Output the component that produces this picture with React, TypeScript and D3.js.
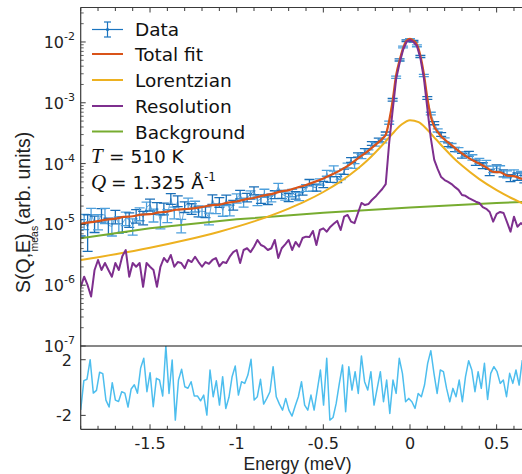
import * as d3 from 'd3'

const W = 522
const H = 474

// measured S(Q,E) on a 0.02 meV grid starting at -1.9 meV
const dataStart = -1.9
const dataStep = 0.02
const dataY = [
  9.2e-6, 1.14e-5, 9.0e-6, 1.47e-5, 1.05e-5, 1.13e-5, 1.45e-5, 1.43e-5, 9.7e-6, 9.2e-6,
  1.36e-5, 1.02e-5, 1.03e-5, 1.27e-5, 1.22e-5, 9.5e-6, 1.4e-5, 1.51e-5, 1.31e-5, 1.9e-5,
  2.13e-5, 1.44e-5, 1.87e-5, 1.14e-5, 1.84e-5, 1.41e-5, 2.67e-5, 1.58e-5, 2.45e-5, 9.7e-6,
  1.96e-5, 2.25e-5, 1.82e-5, 2.0e-5, 1.66e-5, 1.64e-5, 1.62e-5, 1.26e-5, 2.59e-5, 1.84e-5,
  2.33e-5, 1.7e-5, 2.57e-5, 1.73e-5, 2.1e-5, 2.71e-5, 3.12e-5, 2.31e-5, 2.79e-5, 3.06e-5,
  3.59e-5, 2.43e-5, 2.64e-5, 3.29e-5, 2.53e-5, 2.77e-5, 3.11e-5, 4.14e-5, 3.15e-5, 2.94e-5,
  2.78e-5, 3.31e-5, 3.02e-5, 2.89e-5, 3.52e-5, 4.0e-5, 4.89e-5, 4.05e-5, 4.04e-5, 5.02e-5,
  4.56e-5, 6.96e-5, 5.5e-5, 8.36e-5, 5.48e-5, 6.08e-5, 7.39e-5, 9.37e-5, 1.15e-4, 9.16e-5,
  1.39e-4, 1.31e-4, 1.63e-4, 1.56e-4, 2.15e-4, 2.09e-4, 2.46e-4, 2.36e-4, 3.12e-4, 4.72e-4,
  1.12e-3, 2.63e-3, 5.07e-3, 8.27e-3, 1.05e-2, 1.1e-2, 1.03e-2, 8.65e-3, 5.76e-3, 2.81e-3,
  1.2e-3, 6.66e-4, 4.63e-4, 3.52e-4, 3.02e-4, 2.47e-4, 2.04e-4, 1.98e-4, 1.71e-4, 1.7e-4,
  1.35e-4, 1.43e-4, 1.46e-4, 1.27e-4, 1.04e-4, 1.11e-4, 9.3e-5, 1.02e-4, 7.19e-5, 8.1e-5,
  8.48e-5, 8.22e-5, 6.97e-5, 6.72e-5, 5.8e-5, 6.99e-5, 6.14e-5, 6.52e-5, 5.61e-5, 6.42e-5, 5.2e-5,
]
// relative error of each point
const dataRelErr = [
  0.3, 0.28, 0.6, 0.25, 0.3, 0.28, 0.25, 0.28, 0.3, 0.3,
  0.25, 0.3, 0.28, 0.25, 0.27, 0.3, 0.25, 0.24, 0.25, 0.22,
  0.22, 0.24, 0.22, 0.26, 0.22, 0.24, 0.2, 0.22, 0.2, 0.25,
  0.2, 0.2, 0.2, 0.2, 0.2, 0.2, 0.2, 0.22, 0.18, 0.18,
  0.18, 0.2, 0.18, 0.2, 0.18, 0.17, 0.16, 0.17, 0.16, 0.16,
  0.15, 0.16, 0.16, 0.15, 0.16, 0.15, 0.15, 0.14, 0.15, 0.15,
  0.15, 0.14, 0.14, 0.15, 0.14, 0.13, 0.12, 0.13, 0.13, 0.12,
  0.12, 0.11, 0.11, 0.1, 0.11, 0.1, 0.1, 0.09, 0.09, 0.09,
  0.08, 0.08, 0.08, 0.08, 0.07, 0.07, 0.07, 0.07, 0.06, 0.06,
  0.05, 0.04, 0.04, 0.035, 0.03, 0.03, 0.03, 0.035, 0.04, 0.04,
  0.05, 0.05, 0.06, 0.06, 0.07, 0.07, 0.07, 0.08, 0.08, 0.08,
  0.09, 0.09, 0.09, 0.1, 0.1, 0.1, 0.11, 0.11, 0.12, 0.12,
  0.12, 0.12, 0.13, 0.13, 0.13, 0.13, 0.14, 0.14, 0.14, 0.14, 0.14,
]
// resolution (same grid as the data)
const resolutionY = [
  9.4e-7, 1.38e-6, 1.0e-6, 6.5e-7, 1.78e-6, 2.6e-6, 1.78e-6, 2.32e-6, 1.78e-6, 1.38e-6,
  2.32e-6, 1.78e-6, 3.0e-6, 3.79e-6, 1.38e-6, 2.32e-6, 2.01e-6, 2.32e-6, 9.4e-7, 2.32e-6,
  2.01e-6, 1.78e-6, 9.4e-7, 2.01e-6, 2.8e-6, 2.4e-6, 3.14e-6, 2.01e-6, 2.4e-6, 2.32e-6,
  1.9e-6, 2.6e-6, 2.4e-6, 2.94e-6, 2.4e-6, 2.01e-6, 2.4e-6, 2.25e-6, 2.6e-6, 2.8e-6,
  2.05e-6, 2.4e-6, 2.32e-6, 2.94e-6, 3.5e-6, 3.79e-6, 2.32e-6, 3.79e-6, 4.05e-6, 3.5e-6,
  4.3e-6, 5.54e-6, 4.58e-6, 4.3e-6, 3.79e-6, 4.05e-6, 5.54e-6, 2.8e-6, 4.05e-6, 4.7e-6,
  5.54e-6, 3.79e-6, 5.14e-6, 4.3e-6, 5.97e-6, 6.28e-6, 6.2e-6, 7.8e-6, 4.58e-6, 8.09e-6,
  8.6e-6, 7.59e-6, 9.1e-6, 1.02e-5, 1.14e-5, 8.09e-6, 1.34e-5, 1.43e-5, 1.11e-5, 1.05e-5,
  1.54e-5, 2.25e-5, 2.08e-5, 2.16e-5, 2.52e-5, 2.84e-5, 3.3e-5, 3.82e-5, 4.6e-5, 2.2e-4,
  7.5e-4, 2.45e-3, 4.52e-3, 7.4e-3, 1.0e-2, 1.08e-2, 1.0e-2, 8.6e-3, 5.46e-3, 2.56e-3,
  8.2e-4, 2.64e-4, 1.15e-4, 8.1e-5, 6.0e-5, 5.37e-5, 5.0e-5, 4.6e-5, 4.1e-5, 3.7e-5,
  3.05e-5, 2.95e-5, 2.7e-5, 2.52e-5, 2.36e-5, 2.25e-5, 1.93e-5, 1.8e-5, 1.6e-5, 1.11e-5,
  1.49e-5, 1.6e-5, 1.54e-5, 1.09e-5, 7.59e-6, 1.34e-5, 9.16e-6, 1.05e-5, 9.5e-6, 1.0e-5, 8.7e-6,
]

// total fit
const fitE = [
  -1.9, -1.85, -1.8, -1.75, -1.7, -1.65, -1.6, -1.55, -1.5, -1.45, -1.4, -1.35, -1.3, -1.25,
  -1.2, -1.15, -1.1, -1.05, -1.0, -0.95, -0.9, -0.85, -0.8, -0.75, -0.7, -0.65, -0.6, -0.55,
  -0.5, -0.45, -0.4, -0.35, -0.3, -0.25, -0.2, -0.16, -0.14, -0.12, -0.1, -0.08, -0.06, -0.04,
  -0.02, 0, 0.02, 0.04, 0.06, 0.08, 0.1, 0.12, 0.14, 0.16, 0.18, 0.2, 0.24, 0.28, 0.32, 0.36,
  0.4, 0.44, 0.48, 0.52, 0.56, 0.6, 0.64, 0.7,
]
const fitY = [
  1.02e-5, 1.08e-5, 1.13e-5, 1.2e-5, 1.24e-5, 1.33e-5, 1.36e-5, 1.45e-5, 1.47e-5, 1.58e-5,
  1.62e-5, 1.74e-5, 1.78e-5, 1.83e-5, 1.93e-5, 2.06e-5, 2.12e-5, 2.28e-5, 2.38e-5, 2.58e-5,
  2.72e-5, 2.98e-5, 3.15e-5, 3.45e-5, 3.66e-5, 4.05e-5, 4.45e-5, 5.0e-5, 5.7e-5, 6.6e-5,
  7.8e-5, 9.5e-5, 1.22e-4, 1.55e-4, 2.03e-4, 2.57e-4, 2.97e-4, 5.08e-4, 1.08e-3, 2.83e-3,
  4.97e-3, 7.88e-3, 1.05e-2, 1.13e-2, 1.05e-2, 9.1e-3, 5.94e-3, 2.99e-3, 1.2e-3, 5.95e-4,
  4.03e-4, 3.32e-4, 2.8e-4, 2.49e-4, 2.0e-4, 1.62e-4, 1.34e-4, 1.14e-4, 1.0e-4, 8.67e-5,
  7.3e-5, 7.21e-5, 6.34e-5, 6.24e-5, 5.67e-5, 5.2e-5,
]

// Lorentzian component
const lorentzE = [
  -1.9, -1.7, -1.5, -1.3, -1.1, -0.9, -0.7, -0.6, -0.5, -0.4, -0.3, -0.25, -0.2, -0.15,
  -0.1, -0.05, 0, 0.05, 0.1, 0.15, 0.2, 0.25, 0.3, 0.4, 0.5, 0.6, 0.7,
]
const lorentzY = [
  2.59e-6, 3.22e-6, 4.12e-6, 5.47e-6, 7.58e-6, 1.12e-5, 1.82e-5, 2.43e-5, 3.41e-5, 5.09e-5,
  8.29e-5, 1.1e-4, 1.52e-4, 2.16e-4, 3.13e-4, 4.35e-4, 5.18e-4, 4.79e-4, 3.6e-4, 2.51e-4,
  1.75e-4, 1.25e-4, 9.26e-5, 5.56e-5, 3.67e-5, 2.59e-5, 1.92e-5,
]

// flat-ish background
const backgroundE = [-1.9, -1.5, -1.0, -0.5, 0, 0.5, 0.7]
const backgroundY = [5.9e-6, 8.65e-6, 1.21e-5, 1.555e-5, 1.9e-5, 2.245e-5, 2.383e-5]

// residuals, 0.0182 meV grid from -1.9 meV
const residStart = -1.9
const residStep = 0.0182
const residY = [
  -1.6, 0.5, 0.6, 2.0, -0.4, -0.2, 1.1, 1.0, -0.9, -1.4, 0.35, -0.9, -1.0, -0.3, -0.4, -1.4,
  -0.1, 0.2, -0.4, 1.4, 2.1,
  -0.3, 1.07, -1.38, 0.66, 0.54, -0.61, 2.99, -0.42, 1.98, -2.34, 0.54, 1.31, 0.06, -0.05,
  0.42, -0.6, -0.6, -0.95, -0.54, -1.98, 1.26, -0.66, 0.49, -1.26, 0.78, -1.5, -0.7, 0.78,
  1.55, -0.54, 0.42, 0.3, 0.9, 2.03, -0.9, -0.66, 0.59, -1.19, -0.78, -0.3, 1.5, -0.66,
  -1.19, -1.62, -0.78, -1.62, -2.05, -1.33, -0.66, 0.42, -1.26, -1.62, -0.54, -1.62, -0.18,
  1.26, -1.26, 2.1, -2.34, -2.15, -1.14, 0.3, 1.62, -1.74, 1.5, -0.18, 1.14, -0.42, 2.27,
  0.42, -0.18, 1.14, -1.26, -0.06, 1.14, -1.02, 0.54, -1.86, 0.54, -0.42, 2.1, 1.02, -1.02,
  -0.78, -1.02, -1.5, -0.42, -0.66, 0.18, 1.74, 2.65, 1.02, -0.42, 1.26, 1.14, -0.06, -1.02,
  -0.06, -0.66, 0.54, -1.02, 0.78, 1.93, 1.26, -0.3, 1.14, -0.06, 1.74, -0.85, 1.02, 1.5,
  1.14, 0.3, 0.54, -0.66, 1.02, 0.3, 1.26, 0.18, 1.98,
]

const xTickValues = [-1.5, -1, -0.5, 0, 0.5]
const xTickLabels = ['-1.5', '-1', '-0.5', '0', '0.5']
const yDecades = [-7, -6, -5, -4, -3, -2]
const residTickValues = [2, -2]
const residTickLabels = ['2', '-2']
const legendLabels = ['Data', 'Total fit', 'Lorentzian', 'Resolution', 'Background']
const legendColors = ['#1a74bf', '#D95319', '#EDB120', '#7E2F8E', '#77AC30']

const AXIS = '#3a3a3a'
const TXT = '#222'
const SANS = 'DejaVu Sans, sans-serif'
const ARIAL = 'Liberation Sans, Arial, sans-serif'

export default function App() {
  const left = 80.7
  const top = 7.5
  const sep = 346
  const bottom = 429.3

  const x = d3.scaleLinear().domain([-1.9, 0.7]).range([left, 531.3])
  const y = d3.scaleLog().domain([1e-7, Math.pow(10, -1.433)]).range([sep, top])
  const yr = d3.scaleLinear().domain([-3, 3]).range([bottom, sep - 0.2])

  const dataE = dataY.map((_, i) => dataStart + i * dataStep)
  const residE = residY.map((_, i) => residStart + i * residStep)

  const logLine = d3.line<[number, number]>().x(d => x(d[0])).y(d => y(d[1]))
  const smoothLine = d3
    .line<[number, number]>()
    .x(d => x(d[0]))
    .y(d => y(d[1]))
    .curve(d3.curveMonotoneX)
  const residLine = d3.line<[number, number]>().x(d => x(d[0])).y(d => yr(d[1]))

  const zip = (a: number[], b: number[]) => a.map((v, i) => [v, b[i]] as [number, number])

  // tick marks every 0.1 meV on top and bottom axes
  const xMinor = d3.range(-19, 7).map(k => k / 10).filter(v => x(v) <= W)
  const logMinor: number[] = []
  yDecades.forEach(d => {
    for (let m = 2; m <= 9; m++) {
      const v = m * Math.pow(10, d)
      if (y(v) >= top) logMinor.push(v)
    }
  })

  const legendLineY = [29.5, 54, 80, 106, 131.5]
  const legendTextY = [35.5, 61, 87, 113, 138.5]

  return (
    <svg
      width={W}
      height={H}
      style={{ position: 'absolute', left: 0, top: 0, background: '#fff' }}
    >
      <defs>
        <clipPath id="upper">
          <rect x={left} y={top} width={W - left} height={sep - top} />
        </clipPath>
        <clipPath id="lower">
          <rect x={left} y={sep} width={W - left} height={bottom - sep} />
        </clipPath>
      </defs>

      {/* upper panel: data with error bars */}
      <g clipPath="url(#upper)">
        <path
          d={logLine(zip(dataE, dataY)) || ''}
          fill="none"
          stroke="#1a74bf"
          strokeWidth={0.8}
          strokeOpacity={0.8}
        />
        {dataY.map((v, i) => {
          const cx = x(dataE[i])
          const e = dataRelErr[i]
          const y1 = y(v * (1 + e))
          const y2 = y(v * (1 - e))
          const c = i % 2 ? '#4d9fdc' : '#1a6fb8'
          return (
            <g key={i} stroke={c} strokeWidth={1.3}>
              <line x1={cx} x2={cx} y1={y1} y2={y2} />
              <line x1={cx - 5} x2={cx + 5} y1={y1} y2={y1} />
              <line x1={cx - 5} x2={cx + 5} y1={y2} y2={y2} />
            </g>
          )
        })}
        <path
          d={logLine(zip(backgroundE, backgroundY)) || ''}
          fill="none"
          stroke="#77AC30"
          strokeWidth={2}
        />
        <path
          d={smoothLine(zip(lorentzE, lorentzY)) || ''}
          fill="none"
          stroke="#EDB120"
          strokeWidth={2}
        />
        <path
          d={smoothLine(zip(fitE, fitY)) || ''}
          fill="none"
          stroke="#D95319"
          strokeWidth={2.2}
        />
        <path
          d={logLine(zip(dataE, resolutionY)) || ''}
          fill="none"
          stroke="#7E2F8E"
          strokeWidth={2}
          strokeLinejoin="round"
        />
      </g>

      {/* lower panel: residuals */}
      <g clipPath="url(#lower)">
        <path
          d={residLine(zip(residE, residY)) || ''}
          fill="none"
          stroke="#4DBEEE"
          strokeWidth={1.5}
          strokeLinejoin="round"
        />
      </g>

      {/* axes */}
      <line x1={left} x2={W} y1={top} y2={top} stroke={AXIS} strokeWidth={1} />
      <line x1={left} x2={left} y1={top} y2={bottom} stroke={AXIS} strokeWidth={1.2} />
      <line x1={left} x2={W} y1={sep} y2={sep} stroke="#111" strokeWidth={1.2} />
      <line x1={left} x2={W} y1={bottom} y2={bottom} stroke={AXIS} strokeWidth={1.2} />

      {xMinor.map(v => {
        const major = Math.abs(Math.round(v * 10)) % 5 === 0
        const len = major ? 5 : 3.5
        return (
          <g key={v} stroke={AXIS} strokeWidth={1}>
            <line x1={x(v)} x2={x(v)} y1={top} y2={top + len} />
            <line x1={x(v)} x2={x(v)} y1={bottom} y2={bottom - len} />
          </g>
        )
      })}

      {yDecades.map(d => (
        <line
          key={d}
          x1={left}
          x2={left + 5}
          y1={y(Math.pow(10, d))}
          y2={y(Math.pow(10, d))}
          stroke={AXIS}
        />
      ))}
      {logMinor.map(v => (
        <line key={v} x1={left} x2={left + 3} y1={y(v)} y2={y(v)} stroke={AXIS} strokeWidth={0.8} />
      ))}
      {residTickValues.map(v => (
        <line key={v} x1={left} x2={left + 5} y1={yr(v)} y2={yr(v)} stroke={AXIS} />
      ))}

      {/* tick labels */}
      {yDecades.map(d => (
        <text
          key={d}
          x={75}
          y={y(Math.pow(10, d)) + 6}
          textAnchor="end"
          fontFamily={SANS}
          fill={TXT}
        >
          <tspan fontSize={16}>10</tspan>
          <tspan fontSize={11} dy={-8}>
            {`${d}`}
          </tspan>
        </text>
      ))}
      {residTickValues.map((v, i) => (
        <text
          key={v}
          x={72}
          y={yr(v) + 6}
          textAnchor="end"
          fontFamily={SANS}
          fontSize={16}
          fill={TXT}
        >
          {residTickLabels[i]}
        </text>
      ))}
      {xTickValues.map((v, i) => (
        <text
          key={v}
          x={x(v)}
          y={449}
          textAnchor="middle"
          fontFamily={SANS}
          fontSize={16}
          fill={TXT}
        >
          {xTickLabels[i]}
        </text>
      ))}

      {/* axis titles */}
      <text x={297.5} y={470} textAnchor="middle" fontFamily={ARIAL} fontSize={17.5} fill={TXT}>
        Energy (meV)
      </text>
      <g transform="translate(30,293) rotate(-90)" fontFamily={ARIAL} fill={TXT}>
        <text x={0} y={0} fontSize={19.5}>
          S(Q,E)
        </text>
        <text x={41.5} y={7.5} fontSize={10.5}>
          meas
        </text>
        <text x={68} y={0} fontSize={19.5}>
          (arb. units)
        </text>
      </g>

      {/* legend */}
      <g>
        <line x1={92} x2={123} y1={legendLineY[0]} y2={legendLineY[0]} stroke={legendColors[0]} strokeWidth={1.2} />
        <line x1={107.5} x2={107.5} y1={legendLineY[0] - 7.5} y2={legendLineY[0] + 7.5} stroke={legendColors[0]} strokeWidth={1.2} />
        <line x1={104} x2={111} y1={legendLineY[0] - 7.5} y2={legendLineY[0] - 7.5} stroke={legendColors[0]} strokeWidth={1.2} />
        <line x1={104} x2={111} y1={legendLineY[0] + 7.5} y2={legendLineY[0] + 7.5} stroke={legendColors[0]} strokeWidth={1.2} />
        <circle cx={107.5} cy={legendLineY[0]} r={1.6} fill={legendColors[0]} />
        {legendLabels.map((lab, i) => (
          <g key={lab}>
            {i > 0 && (
              <line
                x1={92}
                x2={123}
                y1={legendLineY[i]}
                y2={legendLineY[i]}
                stroke={legendColors[i]}
                strokeWidth={2}
              />
            )}
            <text x={135} y={legendTextY[i]} fontFamily={SANS} fontSize={18.5} fill="#111">
              {lab}
            </text>
          </g>
        ))}
        <text x={91} y={163} fontFamily="Liberation Serif, serif" fontStyle="italic" fontSize={21} fill="#111">
          T
        </text>
        <text x={109} y={163} fontFamily={SANS} fontSize={18.5} fill="#111">
          = 510 K
        </text>
        <text x={91} y={188.5} fontFamily="Liberation Serif, serif" fontStyle="italic" fontSize={21} fill="#111">
          Q
        </text>
        <text x={111} y={188.5} fontFamily={SANS} fontSize={18.5} fill="#111">
          = 1.325 Å
          <tspan fontSize={12} dy={-8}>
            -1
          </tspan>
        </text>
      </g>
    </svg>
  )
}
